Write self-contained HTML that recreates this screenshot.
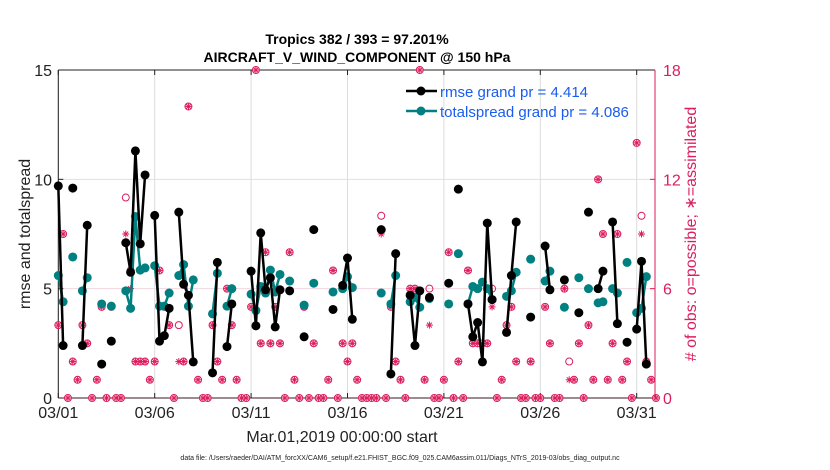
<!DOCTYPE html>
<html><head><meta charset="utf-8"><style>
html,body{margin:0;padding:0;background:#fff;}
svg{display:block;font-family:"Liberation Sans",sans-serif;}
</style></head><body>
<svg id="chart" width="830" height="470" viewBox="0 0 830 470">
<rect width="830" height="470" fill="#fff"/>
<g id="grid"></g>
<g id="axes"></g>
<g id="obs"></g>
<g id="spreadG"></g>
<g id="rmseG"></g>
<text x="357" y="44" text-anchor="middle" font-size="14" font-weight="bold">Tropics 382 / 393 = 97.201%</text>
<text x="357" y="62" text-anchor="middle" font-size="14" font-weight="bold">AIRCRAFT_V_WIND_COMPONENT @ 150 hPa</text>
<text transform="translate(30,234) rotate(-90)" text-anchor="middle" font-size="16" fill="#222">rmse and totalspread</text>
<text transform="translate(696,234) rotate(-90)" text-anchor="middle" font-size="16" fill="#dc1e5c"># of obs: o=possible; &#8727;=assimilated</text>
<text x="342" y="442" text-anchor="middle" font-size="16" fill="#222">Mar.01,2019 00:00:00 start</text>
<text x="400" y="460" text-anchor="middle" font-size="7" fill="#222">data file: /Users/raeder/DAI/ATM_forcXX/CAM6_setup/f.e21.FHIST_BGC.f09_025.CAM6assim.011/Diags_NTrS_2019-03/obs_diag_output.nc</text>
<g>
<g>
<line x1="406" y1="91" x2="437" y2="91" stroke="#000" stroke-width="2.5"/><circle cx="421" cy="91" r="4.5" fill="#000"/>
<text x="440" y="97" font-size="15" fill="#1a5cf0">rmse grand pr = 4.414</text></g>
<g>
<line x1="406" y1="111" x2="437" y2="111" stroke="#008080" stroke-width="2.5"/><circle cx="421" cy="111" r="4.5" fill="#008080"/>
<text x="440" y="117" font-size="15" fill="#1a5cf0">totalspread grand pr = 4.086</text></g>
</g>
</svg>
<script>
const dateLabels = ["03/01","03/06","03/11","03/16","03/21","03/26","03/31"];
const leftTicks = [0,5,10,15];
const rightTicks = [0,6,12,18];
const N = null;
const rmse = [9.7,2.4,N,9.6,N,2.4,7.9,N,N,1.55,N,2.6,N,N,7.1,5.75,11.3,7.05,10.2,N,8.35,2.6,2.85,4.1,N,8.5,5.2,4.7,1.65,N,N,N,1.15,6.2,N,2.35,4.3,N,N,N,5.8,3.3,7.55,4.95,5.5,3.25,4.95,N,4.9,N,N,2.8,N,7.7,N,N,N,4.05,N,5.15,6.4,3.6,N,N,N,N,N,7.7,N,1.1,6.6,N,N,4.7,2.4,4.9,N,4.6,N,N,N,5.25,N,9.55,N,4.3,2.8,3.45,1.65,8.0,4.5,N,N,3.0,5.6,8.05,N,N,3.7,N,N,6.95,4.95,N,N,5.4,N,N,3.9,N,8.5,N,5.0,5.8,N,8.05,3.4,N,2.55,N,3.15,6.25,1.55,N,N];
const spread = [5.6,4.4,N,6.45,N,4.9,5.5,N,N,4.3,N,4.2,N,N,4.9,4.1,8.3,5.85,5.95,N,6.05,4.2,4.2,4.8,N,5.6,6.1,4.2,5.4,N,N,N,3.85,5.7,N,4.2,5.0,N,N,N,4.75,4.0,5.1,4.8,5.85,4.85,5.65,N,5.35,N,N,4.25,N,5.25,N,N,N,4.85,N,5.0,5.55,5.05,N,N,N,N,N,4.8,N,4.3,5.6,N,N,4.4,4.6,4.15,N,4.55,N,N,N,4.3,N,6.6,N,4.3,5.1,5.0,5.3,5.0,4.5,N,N,4.65,4.9,5.75,N,N,6.35,N,N,5.35,5.8,N,N,4.15,N,N,5.5,N,5.0,N,4.35,4.4,N,5.0,4.8,N,6.2,N,3.9,4.1,5.55,N,N];
const obsPossible = [4,9,0,2,1,4,3,0,1,5,0,5,0,0,11,7,2,2,2,1,2,7,5,4,0,4,2,16,2,1,0,0,4,2,1,6,4,1,0,0,5,18,3,8,3,5,3,0,8,1,0,5,0,3,0,0,1,7,0,3,2,3,1,0,0,0,0,10,0,5,2,1,0,6,6,18,1,6,0,0,1,8,0,2,0,7,3,3,3,3,6,0,1,4,5,2,0,0,2,0,0,5,3,0,0,6,2,1,3,0,4,1,12,9,1,3,9,1,2,0,14,10,2,1,0];
const obsAssim = [4,9,0,2,1,4,3,0,1,5,0,5,0,0,9,6,2,2,2,1,2,7,5,4,0,2,2,16,2,1,0,0,4,2,1,6,4,1,0,0,5,18,3,8,3,5,3,0,8,1,0,5,0,3,0,0,1,7,0,3,2,3,1,0,0,0,0,9,0,5,2,1,0,6,6,18,1,4,0,0,1,8,0,2,0,7,3,3,3,3,5,0,1,4,5,2,0,0,2,0,0,5,3,0,0,6,1,1,3,0,4,1,12,9,1,3,9,1,2,0,14,9,2,1,0];

const X0=58.3, X1=655, Y0=398, Y1=70, IMAX=123.8;
const PINK="#dc1e5c";
function xs(i){return X0+(X1-X0)*i/IMAX;}
function yl(v){return Y0-(Y0-Y1)*v/15;}
function yr(v){return Y0-(Y0-Y1)*v/18;}
const NS="http://www.w3.org/2000/svg";
function mk(parent,tag,attrs){const e=document.createElementNS(NS,tag);for(const k in attrs)e.setAttribute(k,attrs[k]);parent.appendChild(e);return e;}
const grid=document.getElementById('grid'), axes=document.getElementById('axes');
// grid
dateLabels.forEach((d,k)=>{const x=xs(k*20);
 const g=mk(grid,'line',{x1:x,y1:Y1,x2:x,y2:Y0,stroke:"#dcdcdc","stroke-width":1});
 
 
 const t=mk(axes,'text',{x:x,y:418,"text-anchor":"middle","font-size":16,fill:"#222"});t.textContent=d;
 
 
 mk(axes,'line',{x1:x,y1:Y0,x2:x,y2:Y0-5,stroke:"#222"});
 mk(axes,'line',{x1:x,y1:Y1,x2:x,y2:Y1+5,stroke:"#222"});
});
[5,10].forEach(v=>{const g=mk(grid,'line',{x1:X0,y1:yl(v),x2:X1,y2:yl(v),stroke:"#f2d6e0","stroke-width":1});
 
 });
leftTicks.forEach(v=>{const t=mk(axes,'text',{x:52,y:yl(v)+6,"text-anchor":"end","font-size":16,fill:"#222"});t.textContent=v;
 
 
 mk(axes,'line',{x1:X0,y1:yl(v),x2:X0+5,y2:yl(v),stroke:"#222"});});
rightTicks.forEach(v=>{const t=mk(axes,'text',{x:663,y:yr(v)+6,"font-size":16,fill:PINK});t.textContent=v;
 
 
 mk(axes,'line',{x1:X1,y1:yr(v),x2:X1-5,y2:yr(v),stroke:PINK});});
mk(axes,'line',{x1:X0,y1:Y1,x2:X1,y2:Y1,stroke:"#222"});
mk(axes,'line',{x1:X0,y1:Y0,x2:X1,y2:Y0,stroke:"#3a1a22"});
mk(axes,'line',{x1:X0,y1:Y1,x2:X0,y2:Y0,stroke:"#222"});
mk(axes,'line',{x1:X1,y1:Y1,x2:X1,y2:Y0,stroke:PINK});
// obs markers
const obs=document.getElementById('obs');
function star(g,x,y){const r=3.5;[[r,0],[0,r],[r*.7,r*.7],[r*.7,-r*.7]].forEach(([dx,dy])=>mk(g,'line',{x1:x-dx,y1:y-dy,x2:x+dx,y2:y+dy,stroke:PINK,"stroke-width":1}));}
obsPossible.forEach((v,i)=>{if(v==null)return;
 const c=mk(obs,'circle',{cx:xs(i),cy:yr(v),r:3.5,fill:"none",stroke:PINK,"stroke-width":1});
 
 });
obsAssim.forEach((v,i)=>{if(v==null)return;
 const g=mk(obs,'g',{});
 
 
 star(g,xs(i),yr(v));});
// series
function series(arr,gid,color,name){const g=document.getElementById(gid);let seg=[];
 const flush=()=>{if(seg.length>1){const p=mk(g,'polyline',{points:seg.join(' '),fill:"none",stroke:color,"stroke-width":2.5,"stroke-linejoin":"round"});
  
  }seg=[];};
 arr.forEach((v,i)=>{if(v==null){flush();return;}seg.push(xs(i)+','+yl(v));});flush();
 arr.forEach((v,i)=>{if(v==null)return;const c=mk(g,'circle',{cx:xs(i),cy:yl(v),r:4.5,fill:color});
  
  });
}
series(spread,'spreadG',"#008080",'totalspread');
series(rmse,'rmseG',"#000",'rmse');
</script>
</body></html>
